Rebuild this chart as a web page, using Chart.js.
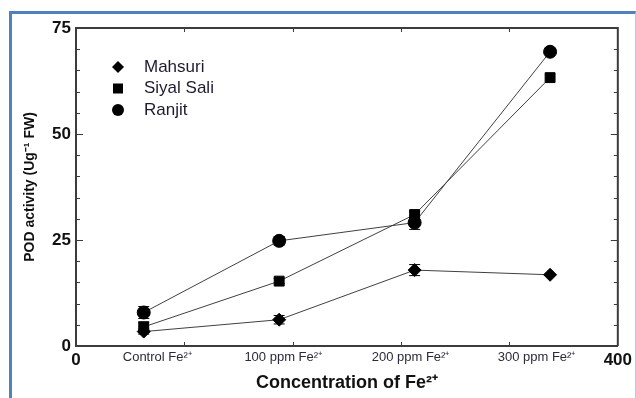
<!DOCTYPE html>
<html>
<head>
<meta charset="utf-8">
<script src="https://cdn.jsdelivr.net/npm/chart.js@4.4.1/dist/chart.umd.min.js"></script>
<style>
  html, body { margin: 0; padding: 0; background: #fff; overflow: hidden; }
  #wrap { position: relative; width: 636px; height: 398px; }
  #frame {
    position: absolute; left: 9px; top: 11px; width: 623px; height: 400px;
    border-top: 3px solid #4f81bd; border-left: 3px solid #4f81bd; border-right: 1px solid #b9cbe2;
  }
  canvas { position: absolute; left: 0; top: 0; }
</style>
</head>
<body>
<div id="wrap">
  <div id="frame"></div>
  <canvas id="chart" width="636" height="398"></canvas>
</div>
<script>
// data
const doses = [50, 150, 250, 350];
const mahsuri = [3.4, 6.2, 17.9, 16.8];
const siyalSali = [4.5, 15.3, 31.0, 63.3];
const ranjit = [7.9, 24.8, 29.1, 69.4];
const mahsuriErr = [0.6, 1.0, 1.3, 0];
const siyalErr = [1.2, 0.6, 0.8, 0];
const ranjitErr = [1.4, 1.0, 1.6, 0];

// axis labels
const xLabels = ['0', 'Control Fe²⁺', '100 ppm Fe²⁺', '200 ppm Fe²⁺', '300 ppm Fe²⁺', '400'];
const xLabelPos = [0, 60, 153, 247, 340, 400];
const xTickMarks = [80, 160, 240, 320];
const yTicks = [0, 25, 50, 75];

const FONT = "'Liberation Sans', Arial, sans-serif";
const AXIS = '#3c3c3c';

function pts(vals) {
  return doses.map((d, i) => ({ x: d, y: vals[i] }));
}

function series(label, vals, style, r) {
  return {
    label: label,
    data: pts(vals),
    showLine: true,
    borderColor: '#404040',
    borderWidth: 1,
    pointStyle: style,
    pointRadius: r,
    pointHoverRadius: r,
    pointBackgroundColor: '#000',
    pointBorderColor: '#000',
    pointBorderWidth: 1
  };
}

const errors = [mahsuriErr, siyalErr, ranjitErr];

// error bars, box, inward tick marks and the legend
const decor = {
  id: 'decor',
  beforeDatasetsDraw(chart) {
    const ctx = chart.ctx, xs = chart.scales.x, ys = chart.scales.y;
    ctx.save();
    ctx.strokeStyle = '#000';
    ctx.lineWidth = 1;
    chart.data.datasets.forEach((ds, k) => {
      ds.data.forEach((p, i) => {
        const e = errors[k][i];
        if (!e) return;
        const px = xs.getPixelForValue(p.x);
        const y1 = ys.getPixelForValue(p.y - e), y2 = ys.getPixelForValue(p.y + e);
        ctx.beginPath();
        ctx.moveTo(px, y1); ctx.lineTo(px, y2);
        ctx.moveTo(px - 5.5, y1); ctx.lineTo(px + 5.5, y1);
        ctx.moveTo(px - 5.5, y2); ctx.lineTo(px + 5.5, y2);
        ctx.stroke();
      });
    });
    ctx.restore();
  },
  afterDraw(chart) {
    const ctx = chart.ctx, a = chart.chartArea, xs = chart.scales.x, ys = chart.scales.y;
    ctx.save();
    ctx.strokeStyle = AXIS;
    ctx.lineWidth = 2;
    ctx.beginPath();
    ctx.moveTo(a.left, a.top); ctx.lineTo(a.right, a.top); ctx.lineTo(a.right, a.bottom);
    ctx.stroke();

    ctx.lineWidth = 1;
    ctx.beginPath();
    xTickMarks.forEach(v => {
      const px = Math.round(xs.getPixelForValue(v)) + 0.5;
      ctx.moveTo(px, a.bottom); ctx.lineTo(px, a.bottom - 4);
      ctx.moveTo(px, a.top); ctx.lineTo(px, a.top + 4);
    });
    for (let v = 5; v < 75; v += 5) {
      const py = Math.round(ys.getPixelForValue(v)) + 0.5;
      const len = v % 25 === 0 ? 7 : 4;
      ctx.moveTo(a.left, py); ctx.lineTo(a.left + len, py);
      ctx.moveTo(a.right, py); ctx.lineTo(a.right - len, py);
    }
    ctx.stroke();

    // legend
    const styles = ['rectRot', 'rect', 'circle'];
    ctx.fillStyle = '#000';
    chart.data.datasets.forEach((ds, i) => {
      const mx = a.left + 42, my = a.top + 39 + i * 21.5;
      ctx.beginPath();
      if (styles[i] === 'rectRot') {
        ctx.moveTo(mx, my - 6); ctx.lineTo(mx + 6, my); ctx.lineTo(mx, my + 6); ctx.lineTo(mx - 6, my);
        ctx.closePath();
      } else if (styles[i] === 'rect') {
        ctx.rect(mx - 5, my - 5, 10, 10);
      } else {
        ctx.arc(mx, my, 6, 0, Math.PI * 2);
      }
      ctx.fill();
    });
    ctx.fillStyle = '#1c1c30';
    ctx.font = '17px ' + FONT;
    ctx.textBaseline = 'middle';
    chart.data.datasets.forEach((ds, i) => {
      ctx.fillText(ds.label, a.left + 68, a.top + 39 + i * 21.5);
    });
    ctx.restore();
  }
};

new Chart(document.getElementById('chart'), {
  type: 'scatter',
  data: {
    datasets: [
      series('Mahsuri', mahsuri, 'rectRot', 6.5),
      series('Siyal Sali', siyalSali, 'rect', 7),
      series('Ranjit', ranjit, 'circle', 6.5)
    ]
  },
  plugins: [decor],
  options: {
    responsive: false,
    animation: false,
    layout: { padding: { top: 28, right: 18, left: 0, bottom: 0 } },
    plugins: { legend: { display: false }, tooltip: { enabled: false } },
    scales: {
      x: {
        type: 'linear',
        min: 0,
        max: 400,
        grid: { display: false, drawTicks: false },
        border: { display: true, color: AXIS, width: 2 },
        afterBuildTicks(scale) { scale.ticks = xLabelPos.map(v => ({ value: v })); },
        afterFit(scale) { scale.height = 52; },
        ticks: {
          autoSkip: false,
          maxRotation: 0,
          padding: 4,
          callback: (v, i) => xLabels[i],
          color: c => (c.index === 0 || c.index === 5) ? '#111' : '#2a2a3a',
          font: c => (c.index === 0 || c.index === 5)
            ? { family: FONT, size: 17, weight: 'bold' }
            : { family: FONT, size: 13 }
        },
        title: {
          display: true,
          text: 'Concentration of Fe²⁺',
          color: '#111',
          font: { family: FONT, size: 18, weight: 'bold' },
          padding: { top: 0, bottom: 4 }
        }
      },
      y: {
        min: 0,
        max: 75,
        grid: { display: false, drawTicks: false },
        border: { display: true, color: AXIS, width: 2 },
        afterBuildTicks(scale) { scale.ticks = yTicks.map(v => ({ value: v })); },
        afterFit(scale) { scale.width = 76; },
        ticks: {
          padding: 5,
          color: '#111',
          font: { family: FONT, size: 17, weight: 'bold' }
        },
        title: {
          display: true,
          text: 'POD activity (Ug⁻¹ FW)',
          color: '#111',
          font: { family: FONT, size: 14, weight: 'bold' },
          padding: { top: 22, bottom: 0 }
        }
      }
    }
  }
});
</script>
</body>
</html>
